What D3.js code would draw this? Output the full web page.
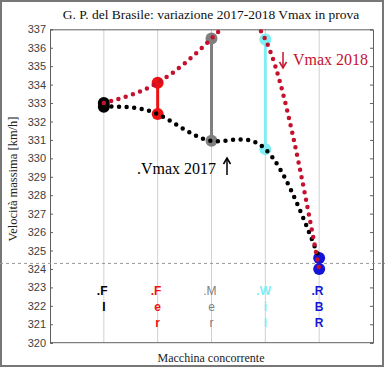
<!DOCTYPE html>
<html><head><meta charset="utf-8">
<script src="https://cdn.jsdelivr.net/npm/d3@7"></script>
<style>body{margin:0;background:#fff}svg{display:block}</style>
</head><body>
<script>
const teams = ["FI","Fer","Mer","Wil","RBR"];
const teamLabels = [["F","I"],["F","e","r"],["M","e","r"],["W","i","l"],["R","B","R"]];
const teamColors = ["#000000","#ee1111","#7f7f7f","#80eef2","#1414d8"];
const vmax2017 = [332.8, 332.4, 330.95, 330.5, 324.6];
const vmax2018 = [333.0, 334.1, 336.5, 336.45, 324.0];
const yTicks = d3.range(320, 338, 1);
const refLine = 324.3;
const title = "G. P. del Brasile: variazione 2017-2018 Vmax in prova";
const yTitle = "Velocità massima  [km/h]";
const xTitle = "Macchina concorrente";

const W = 385, H = 370;
const svg = d3.select("body").append("svg").attr("width", W).attr("height", H);
const x = d3.scaleLinear().domain([0, 6]).range([50, 373]);
const y = d3.scaleLinear().domain([320, 337]).range([342.7, 29.3]);
const serif = "'Liberation Serif','Times New Roman',serif";
const sans = "'Liberation Sans',Arial,sans-serif";

// frame
svg.append("rect").attr("x",1).attr("y",1).attr("width",382).attr("height",365)
  .attr("fill","#fff").attr("stroke","#777").attr("stroke-width",2);

svg.append("defs").append("clipPath").attr("id","clip").append("rect")
  .attr("x",x(0)).attr("y",y(337)).attr("width",x(6)-x(0)).attr("height",y(320)-y(337));

// gridlines
svg.append("g").selectAll("line").data(teams).join("line")
  .attr("x1",(d,i)=>x(i+1)).attr("x2",(d,i)=>x(i+1))
  .attr("y1",y(337)).attr("y2",y(320)).attr("stroke","#d0d0d0").attr("stroke-width",1);

// axes box
const axL = svg.append("g").attr("transform",`translate(${x(0)},0)`)
  .call(d3.axisLeft(y).tickValues(yTicks).tickSize(-3).tickPadding(4).tickFormat(d3.format("d")));
const axR = svg.append("g").attr("transform",`translate(${x(6)},0)`)
  .call(d3.axisRight(y).tickValues(yTicks).tickSize(-3).tickFormat(""));
[axL, axR].forEach(a=>{
  a.select(".domain").attr("stroke","#606060");
  a.selectAll(".tick line").attr("stroke","#606060");
  a.selectAll("text").attr("font-family",sans).attr("font-size",11).attr("fill","#404040");
});
svg.append("line").attr("x1",x(0)).attr("x2",x(6)).attr("y1",y(337)+0.5).attr("y2",y(337)+0.5).attr("stroke","#606060");
svg.append("line").attr("x1",x(0)).attr("x2",x(6)).attr("y1",y(320)).attr("y2",y(320)).attr("stroke","#606060");

// reference dashed line
svg.append("line").attr("x1",0).attr("x2",W).attr("y1",y(refLine)).attr("y2",y(refLine))
  .attr("stroke","#999").attr("stroke-dasharray","3,3");

// vertical bars and markers
const g = svg.append("g");
teams.forEach((t,i)=>{
  g.append("line").attr("x1",x(i+1)).attr("x2",x(i+1))
    .attr("y1",y(vmax2017[i])).attr("y2",y(vmax2018[i]))
    .attr("stroke",teamColors[i]).attr("stroke-width",3);
  [vmax2017[i], vmax2018[i]].forEach(v=>{
    g.append("circle").attr("cx",x(i+1)).attr("cy",y(v)).attr("r",6).attr("fill",teamColors[i]);
  });
});

// dotted spline curves
const line = d3.line().x((d,i)=>x(i+1)).y(d=>y(d)).curve(d3.curveNatural);
const cg = svg.append("g").attr("clip-path","url(#clip)");
cg.append("path").attr("d",line(vmax2017)).attr("fill","none").attr("stroke","#000")
  .attr("stroke-width",4.5).attr("stroke-linecap","round").attr("stroke-dasharray","0 7.6");
cg.append("path").attr("d",line(vmax2018)).attr("fill","none").attr("stroke","#c4122e")
  .attr("stroke-width",4.5).attr("stroke-linecap","round").attr("stroke-dasharray","0 7.6");

// x tick labels (stacked letters)
teamLabels.forEach((letters,i)=>{
  letters.forEach((ch,j)=>{
    svg.append("text").attr("x",x(i+1) + (j===0?-1.7:0)).attr("y",295+j*16)
      .attr("text-anchor","middle")
      .attr("font-family",sans).attr("font-size",12).attr("font-weight",i===2?"normal":"bold")
      .attr("fill",teamColors[i]).text(j===0 ? "." + ch : ch);
  });
});

// titles
svg.append("text").attr("x",211).attr("y",19).attr("text-anchor","middle")
  .attr("font-family",serif).attr("font-size",13.5).attr("fill","#111").text(title);
svg.append("text").attr("transform","translate(17,179) rotate(-90)").attr("text-anchor","middle")
  .attr("font-family",serif).attr("font-size",12.5).attr("fill","#222").text(yTitle);
svg.append("text").attr("x",211).attr("y",362).attr("text-anchor","middle")
  .attr("font-family",serif).attr("font-size",12).attr("fill","#222").text(xTitle);

// annotations with arrows
function arrow(ax, y0, y1, color){
  const dir = y1 > y0 ? 1 : -1;
  svg.append("line").attr("x1",ax).attr("x2",ax).attr("y1",y0).attr("y2",y1)
    .attr("stroke",color).attr("stroke-width",1.5);
  svg.append("path").attr("d",`M${ax-3.5},${y1-dir*6} L${ax},${y1} L${ax+3.5},${y1-dir*6}`)
    .attr("fill","none").attr("stroke",color).attr("stroke-width",1.5);
}
arrow(283, 52, 68, "#c4122e");
svg.append("text").attr("x",293).attr("y",65).attr("font-family",serif).attr("font-size",16)
  .attr("fill","#c4122e").text("Vmax 2018");
svg.append("text").attr("x",137).attr("y",174).attr("font-family",serif).attr("font-size",16)
  .attr("fill","#000").text(".Vmax 2017");
arrow(227, 175, 158, "#000");
</script>
</body></html>
